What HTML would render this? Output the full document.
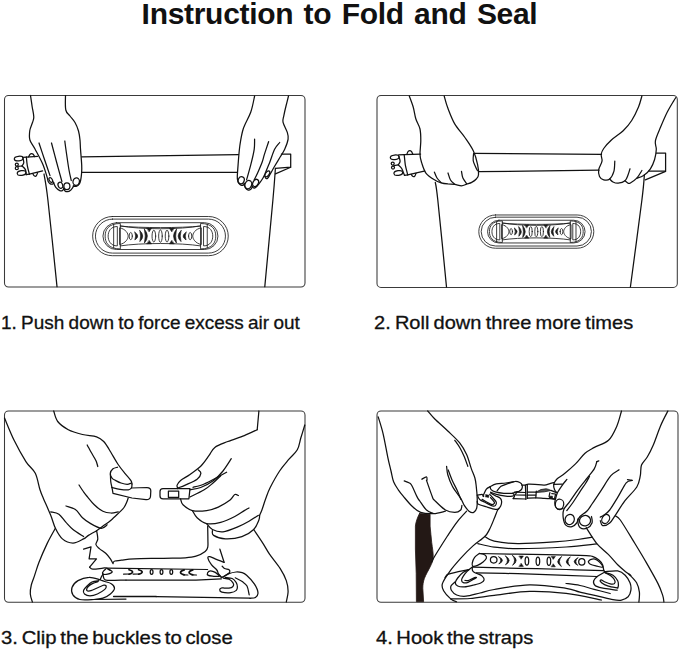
<!DOCTYPE html>
<html><head><meta charset="utf-8"><title>Instruction to Fold and Seal</title>
<style>
html,body{margin:0;padding:0;background:#fff;}
body{width:679px;height:649px;position:relative;overflow:hidden;font-family:"Liberation Sans",sans-serif;color:#111;}
h1{position:absolute;left:0;top:-4px;width:679px;margin:0;text-align:center;font-size:30px;line-height:36px;font-weight:700;letter-spacing:-0.3px;word-spacing:2.3px;white-space:nowrap;}
.cap{position:absolute;margin:0;font-size:18.2px;line-height:22px;font-weight:400;white-space:nowrap;-webkit-text-stroke:0.3px #111;transform-origin:0 0;}
#c1{left:1.2px;top:311.5px;transform:scaleX(1.043);word-spacing:-0.96px;}
#c2{left:374.4px;top:311.5px;transform:scaleX(1.102);word-spacing:-1.27px;}
#c3{left:0.6px;top:627.2px;transform:scaleX(1.116);word-spacing:-1.73px;}
#c4{left:375.5px;top:627.2px;transform:scaleX(1.108);word-spacing:-1.86px;}
svg{position:absolute;left:0;top:0;}
</style></head><body>
<h1>Instruction to Fold and Seal</h1>
<svg width="679" height="649" viewBox="0 0 679 649" fill="none" stroke="#111" stroke-width="1.25" stroke-linecap="round" stroke-linejoin="round">
<rect x="4.5" y="95.5" width="300.5" height="191.5" rx="4" stroke="#3a3a3a" stroke-width="1.05"/>
<path d="M30.5 95.5C30.8 97.4 31.7 103.4 32.2 107.0C32.8 110.6 33.8 114.4 33.8 117.0C33.8 119.6 33.2 120.2 32.5 122.5C31.8 124.8 30.2 127.6 29.8 130.5C29.4 133.4 29.0 136.9 29.9 140.0C30.8 143.1 32.9 145.0 35.0 149.0C37.1 153.0 40.7 159.3 42.7 164.0C44.7 168.7 46.2 174.2 47.1 177.1C48.0 180.0 47.7 180.5 48.2 181.6C48.7 182.7 49.6 183.5 50.3 183.9C51.0 184.3 52.0 184.2 52.6 184.1C53.2 183.9 53.7 183.2 53.9 183.0"/>
<path d="M53.3 182.0C53.7 182.9 54.7 185.9 55.8 187.3C56.9 188.7 58.7 190.1 59.8 190.6C60.9 191.1 61.7 190.9 62.4 190.6C63.1 190.3 63.6 189.3 63.8 189.0"/>
<path d="M63.5 188.0C63.8 188.5 64.3 190.4 65.0 191.0C65.7 191.6 66.6 191.8 67.5 191.7C68.4 191.6 69.7 190.9 70.6 190.2C71.5 189.4 72.4 188.0 73.0 187.2C73.6 186.4 73.8 185.6 74.0 185.3"/>
<path d="M73.2 186.0C73.7 186.1 75.2 186.6 76.2 186.3C77.2 186.0 78.5 185.2 79.2 184.2C80.0 183.1 80.3 181.9 80.7 180.0C81.1 178.1 81.4 175.5 81.6 173.0C81.8 170.5 81.9 169.0 81.7 165.0C81.5 161.0 80.8 153.2 80.5 149.0C80.2 144.8 80.3 143.0 80.0 140.0C79.7 137.0 79.3 133.9 78.5 131.0C77.7 128.1 76.4 125.0 75.0 122.5C73.6 120.0 71.5 118.1 70.0 116.0C68.5 113.9 66.5 113.4 65.8 110.0C65.0 106.6 65.5 97.9 65.5 95.5"/>
<path d="M39.0 143.0C39.8 145.5 42.2 152.6 44.0 158.0C45.8 163.4 49.0 172.7 50.0 175.6"/>
<path d="M51.5 143.0C52.2 145.8 54.3 153.6 56.0 160.0C57.7 166.4 60.9 177.9 61.9 181.5"/>
<path d="M64.8 141.0C65.0 142.5 65.3 145.2 66.0 150.0C66.7 154.8 68.1 164.9 69.0 170.0C69.9 175.1 70.9 178.8 71.3 180.5"/>
<ellipse cx="50.8" cy="180" rx="1.5" ry="2.6" transform="rotate(-30 50.8 180)"/>
<ellipse cx="60.4" cy="185.3" rx="2.3" ry="3.1" transform="rotate(-20 60.4 185.3)"/>
<ellipse cx="66.9" cy="186.3" rx="3" ry="3.4"/>
<ellipse cx="76.2" cy="181.6" rx="3.2" ry="3.8" transform="rotate(12 76.2 181.6)"/>
<path d="M81.7 156.8L238.5 154.6"/>
<path d="M81.7 172.4L237.3 172.3"/>
<path d="M254.6 96.0C254.0 98.7 252.7 106.5 250.8 112.0C248.9 117.5 245.0 123.3 243.2 129.0C241.4 134.7 240.7 140.1 239.8 146.0C239.0 151.9 238.5 159.5 238.1 164.6C237.7 169.7 237.4 173.7 237.3 176.4C237.2 179.1 237.4 179.7 237.8 181.0C238.2 182.3 238.9 183.3 239.5 184.0C240.1 184.7 240.9 185.2 241.6 185.3C242.3 185.5 243.1 185.2 243.6 184.9C244.1 184.6 244.5 183.8 244.7 183.6"/>
<path d="M244.0 183.0C244.2 183.8 244.6 186.4 245.3 187.6C246.0 188.8 247.4 189.8 248.3 190.1C249.2 190.4 250.1 189.9 250.8 189.3C251.5 188.7 252.2 187.1 252.5 186.7"/>
<path d="M252.0 186.2C252.2 186.5 252.9 187.6 253.5 187.8C254.1 188.0 254.6 188.3 255.6 187.6C256.6 186.9 258.1 185.0 259.3 183.4C260.5 181.8 262.0 179.7 263.0 178.0C264.0 176.3 264.9 174.2 265.3 173.5"/>
<path d="M264.8 176.0C265.0 176.4 265.3 177.8 265.8 178.2C266.3 178.6 266.9 179.0 267.6 178.3C268.4 177.6 269.1 175.9 270.3 173.9C271.5 171.9 273.0 169.0 274.6 166.3C276.2 163.6 278.0 160.6 279.7 157.8C281.4 155.0 283.3 152.4 284.7 149.3C286.1 146.2 287.7 142.0 288.1 139.2C288.5 136.4 288.2 135.2 287.3 132.4C286.4 129.6 283.6 125.0 283.0 122.2C282.4 119.4 283.4 118.1 283.9 115.4C284.4 112.7 285.2 109.2 286.0 106.0C286.8 102.8 288.1 97.7 288.5 96.0"/>
<path d="M254.6 139.2C254.5 140.9 254.8 145.1 254.2 149.3C253.6 153.5 252.1 159.5 250.8 164.6C249.5 169.7 247.3 177.3 246.6 179.8"/>
<path d="M268.6 141.7C267.9 143.8 265.5 151.0 264.4 154.4C263.3 157.8 263.3 158.9 262.2 162.0C261.1 165.1 258.9 170.0 257.6 173.0C256.3 176.0 254.8 178.7 254.2 179.8"/>
<path d="M279.7 142.5C278.9 143.6 276.3 145.9 274.6 149.3C272.9 152.7 271.1 159.0 269.5 162.9C267.9 166.8 266.0 171.3 265.3 173.0"/>
<ellipse cx="241.2" cy="180.3" rx="3" ry="3.6" transform="rotate(20 241.2 180.3)"/>
<ellipse cx="248.3" cy="184.6" rx="3.3" ry="4.2" transform="rotate(20 248.3 184.6)"/>
<ellipse cx="255.6" cy="182.9" rx="2.6" ry="3.8" transform="rotate(30 255.6 182.9)"/>
<ellipse cx="267.3" cy="173.9" rx="1.8" ry="3.4" transform="rotate(35 267.3 173.9)"/>
<path d="M281.4 154.0L290.7 154.0L290.7 167.1L275.4 168.3"/>
<path d="M290.7 167.3L275.4 173.9"/>
<path d="M275.4 168.3C275.0 173.6 274.7 180.3 272.9 200.0C271.1 219.7 266.1 272.2 264.8 286.6"/>
<path d="M44.0 174.0C44.6 178.3 45.7 181.2 47.9 200.0C50.1 218.8 55.5 272.2 57.0 286.6"/>
<ellipse cx="18.7" cy="158.6" rx="4.4" ry="2.3" transform="rotate(-6 18.7 158.6)"/>
<ellipse cx="21.6" cy="173" rx="4.4" ry="2.3" transform="rotate(-10 21.6 173)"/>
<ellipse cx="16.8" cy="164.5" rx="1.5" ry="1.5"/>
<ellipse cx="16.8" cy="168.2" rx="1.5" ry="1.5"/>
<path d="M17.8 166.3L22.0 166.0"/>
<path d="M22.9 157.8C23.0 158.6 23.9 161.2 23.8 162.6C23.7 164.0 22.3 165.4 22.0 166.0"/>
<path d="M22.0 166.0C22.6 166.6 24.7 168.2 25.4 169.6C26.1 171.0 26.1 173.8 26.2 174.6"/>
<path d="M22.7 157.4L26.4 157.2"/>
<path d="M26.2 174.7L29.4 174.1"/>
<path d="M37.5 156.4L26.4 157.2"/>
<path d="M26.4 157.2C26.5 158.6 26.8 162.8 27.3 165.6C27.8 168.5 29.0 172.7 29.4 174.1"/>
<path d="M29.4 174.1L42.6 170.8"/>
<path d="M28.6 156.9C28.8 156.5 29.5 154.9 30.0 154.3C30.5 153.7 31.1 153.5 31.6 153.5C32.1 153.5 32.7 153.8 33.2 154.3C33.7 154.8 34.4 156.2 34.6 156.6"/>
<path d="M32.8 173.6C33.0 173.9 33.6 175.2 34.0 175.7C34.4 176.2 34.8 176.3 35.2 176.3C35.6 176.3 36.0 176.3 36.4 175.7C36.8 175.1 37.4 173.2 37.6 172.7"/>
<g transform="translate(160.45 236.1) scale(1)" stroke-width="0.85" stroke="#1c1c1c">
<path d="M-48.2 -19.6 H48.2 A19.6 19.6 0 0 1 48.2 19.6 H-48.2 A19.6 19.6 0 0 1 -48.2 -19.6 Z"/>
<path d="M-48 -17 H48 A17 17 0 0 1 48 17 H-48 A17 17 0 0 1 -48 -17 Z"/>
<path d="M-44.1 -13.4 H44.1 A13.4 13.4 0 0 1 44.1 13.4 H-44.1 A13.4 13.4 0 0 1 -44.1 -13.4 Z"/>
<path d="M-40.2 -10.2 C-20 -6.4 20 -6.4 40.2 -10.2 M-40.2 9.8 C-20 6.6 20 6.6 40.2 9.8"/>
<path d="M-40 -10 C-20 -8 20 -8 40 -10"/>
<g transform="scale(-1 1)">
<path d="M-40.5 -12.6 C-52.5 -12.6 -55.3 -6 -55.3 0 C-55.3 6 -52.5 12.8 -40.5 12.8 Z"/>
<path d="M-43.5 -9.6 C-50 -9.6 -52.3 -4.5 -52.3 0 C-52.3 4.5 -50 9.8 -43.5 9.8 Z"/>
<path d="M-46.8 -11.6 L-46.8 11.8"/>
<path d="M-40.5 -8.2 C-34.5 -7 -32.3 -2.5 -32.3 0 C-32.3 2.5 -34.5 7 -40.5 8.4 Z"/>
<ellipse cx="-29.7" cy="0" rx="1.6" ry="3.6"/>
<path d="M-25.6 -3.9 Q-19.7 0 -25.6 3.9 Q-23.9 0 -25.6 -3.9Z" fill="#1c1c1c" stroke-width="0.7"/>
<path d="M-20.6 -5.5 Q-14.7 0 -20.6 5.5 Q-18.9 0 -20.6 -5.5Z" fill="#1c1c1c" stroke-width="0.7"/>
<path d="M-16 -6.9 Q-10.1 0 -16 6.9 Q-14.3 0 -16 -6.9Z" fill="#1c1c1c" stroke-width="0.7"/>
<path d="M-13.6 -8 L-8.8 -8 L-11.2 -4.4Z M-13.6 7.8 L-8.8 7.8 L-11.2 4.4Z" fill="#1c1c1c" stroke-width="0.5"/>
</g>
<g transform="scale(1 1)">
<path d="M-40.5 -12.6 C-52.5 -12.6 -55.3 -6 -55.3 0 C-55.3 6 -52.5 12.8 -40.5 12.8 Z"/>
<path d="M-43.5 -9.6 C-50 -9.6 -52.3 -4.5 -52.3 0 C-52.3 4.5 -50 9.8 -43.5 9.8 Z"/>
<path d="M-46.8 -11.6 L-46.8 11.8"/>
<path d="M-40.5 -8.2 C-34.5 -7 -32.3 -2.5 -32.3 0 C-32.3 2.5 -34.5 7 -40.5 8.4 Z"/>
<ellipse cx="-29.7" cy="0" rx="1.6" ry="3.6"/>
<path d="M-25.6 -3.9 Q-19.7 0 -25.6 3.9 Q-23.9 0 -25.6 -3.9Z" fill="#1c1c1c" stroke-width="0.7"/>
<path d="M-20.6 -5.5 Q-14.7 0 -20.6 5.5 Q-18.9 0 -20.6 -5.5Z" fill="#1c1c1c" stroke-width="0.7"/>
<path d="M-16 -6.9 Q-10.1 0 -16 6.9 Q-14.3 0 -16 -6.9Z" fill="#1c1c1c" stroke-width="0.7"/>
<path d="M-13.6 -8 L-8.8 -8 L-11.2 -4.4Z M-13.6 7.8 L-8.8 7.8 L-11.2 4.4Z" fill="#1c1c1c" stroke-width="0.5"/>
</g>
<ellipse cx="-6.6" cy="0" rx="1.8" ry="5.9"/>
<ellipse cx="0" cy="0" rx="1.8" ry="6.2"/>
<ellipse cx="6.6" cy="0" rx="1.8" ry="5.9"/>
</g>
<rect x="377" y="95.5" width="300.3" height="191.9" rx="4" stroke="#3a3a3a" stroke-width="1.05"/>
<path d="M409.3 96.0C409.9 97.8 412.1 103.2 413.2 107.0C414.3 110.8 414.7 115.1 415.8 118.8C416.9 122.5 419.2 125.3 420.0 129.0C420.8 132.7 420.8 136.6 420.8 140.8C420.8 145.0 419.9 150.7 420.0 154.4C420.1 158.1 420.7 159.8 421.7 162.9C422.7 166.0 423.8 170.2 425.9 173.0C428.0 175.8 431.8 178.2 434.4 179.8C436.9 181.5 438.9 182.2 441.2 182.9C443.5 183.6 445.8 183.8 448.0 184.0C450.2 184.2 452.4 184.0 454.7 184.3C456.9 184.6 459.5 185.8 461.5 185.8C463.5 185.8 464.9 184.8 466.6 184.2C468.3 183.6 470.1 183.3 471.7 182.4C473.3 181.5 475.2 180.3 476.3 179.0C477.4 177.7 478.3 177.1 478.5 174.7C478.7 172.3 478.5 168.5 477.6 164.6C476.8 160.7 475.5 155.5 473.4 151.0C471.3 146.5 468.0 142.0 464.9 137.5C461.8 133.0 457.5 128.7 454.7 123.9C451.9 119.1 449.8 113.2 448.0 108.6C446.2 103.9 444.8 98.1 444.2 96.0"/>
<path d="M434.4 172.2C434.8 173.2 435.9 176.3 437.0 178.0C438.1 179.7 440.5 181.8 441.2 182.6"/>
<path d="M448.0 173.0C448.4 174.2 449.4 178.1 450.5 180.0C451.6 181.9 454.0 183.5 454.7 184.2"/>
<path d="M461.5 171.4C461.7 172.5 462.0 176.0 462.9 178.0C463.8 180.0 466.0 182.7 466.6 183.6"/>
<path d="M473.6 153.6C473.5 154.8 472.9 158.4 473.2 160.5C473.5 162.6 474.5 164.3 475.2 166.0C475.9 167.7 477.0 169.8 477.4 170.5"/>
<path d="M473.9 153.4L601.5 154.4"/>
<path d="M478.4 171.7L599.0 170.2"/>
<path d="M641.9 96.0C641.3 97.8 640.2 102.9 638.5 107.0C636.8 111.1 634.2 116.5 631.7 120.5C629.2 124.5 626.6 127.4 623.2 130.7C619.8 133.9 614.6 137.0 611.4 140.0C608.1 143.0 605.4 146.1 603.7 148.5C602.0 150.9 601.5 152.3 601.2 154.4C600.9 156.5 602.4 158.6 602.0 161.2C601.6 163.8 599.1 167.2 598.7 169.7C598.3 172.2 598.7 174.7 599.5 176.4C600.3 178.1 602.0 179.4 603.7 179.8C605.4 180.2 608.0 180.4 609.7 179.0C611.4 177.6 613.0 174.4 613.9 171.4C614.8 168.4 614.6 162.9 614.8 161.2"/>
<path d="M609.7 179.0C610.2 179.5 611.6 181.3 613.0 182.0C614.4 182.7 616.2 183.4 618.2 183.2C620.2 183.0 623.4 182.1 625.0 180.7C626.6 179.3 627.2 177.0 628.0 175.0C628.8 173.0 629.7 169.8 630.0 168.8"/>
<path d="M625.0 180.7C625.4 181.0 626.7 182.4 627.5 182.8C628.3 183.2 628.5 184.0 630.0 183.2C631.5 182.4 634.8 180.2 636.8 178.1C638.8 176.0 641.0 171.8 641.9 170.5"/>
<path d="M636.8 178.3C637.9 177.9 641.3 177.2 643.6 175.6C645.9 174.0 648.6 171.5 650.4 168.8C652.2 166.1 653.6 162.8 654.6 159.5C655.6 156.2 656.2 152.4 656.3 149.3C656.4 146.2 654.7 144.5 655.4 140.8C656.1 137.1 658.5 132.1 660.5 127.3C662.5 122.5 665.0 116.5 667.3 112.0C669.6 107.5 672.7 102.6 674.1 100.2C675.5 97.8 675.5 98.0 675.8 97.6"/>
<path d="M656.3 153.0L665.6 153.0L665.6 171.0L648.7 171.0"/>
<path d="M665.6 171.3L645.3 179.8"/>
<path d="M644.4 174.7C644.0 178.9 644.2 181.3 641.9 200.0C639.6 218.7 632.3 272.5 630.4 287.0"/>
<path d="M435.3 182.4C435.7 185.3 435.9 182.6 437.8 200.0C439.7 217.4 445.1 272.5 446.5 287.0"/>
<ellipse cx="394.7" cy="157.3" rx="4.4" ry="2.3" transform="rotate(-6 394.7 157.3)"/>
<ellipse cx="398.3" cy="173" rx="4.4" ry="2.3" transform="rotate(-10 398.3 173)"/>
<ellipse cx="392.7" cy="163.6" rx="1.5" ry="1.5"/>
<ellipse cx="393" cy="167.5" rx="1.5" ry="1.5"/>
<path d="M393.9 165.6L398.3 164.9"/>
<path d="M398.9 156.5C399.1 157.3 400.2 160.0 400.1 161.4C400.0 162.8 398.6 164.3 398.3 164.9"/>
<path d="M398.3 164.9C398.9 165.5 400.7 166.8 401.7 168.5C402.7 170.2 404.0 174.2 404.5 175.3"/>
<path d="M398.7 154.9L404.2 154.7"/>
<path d="M404.5 175.4L407.7 174.8"/>
<path d="M420.6 154.1L404.2 154.7"/>
<path d="M404.2 154.7C404.4 156.4 404.8 161.4 405.3 164.8C405.9 168.1 407.3 173.1 407.7 174.8"/>
<path d="M407.7 174.8L424.2 171.2"/>
<path d="M406.8 154.4C407.0 153.9 407.7 152.0 408.2 151.4C408.7 150.8 409.3 150.6 409.8 150.6C410.3 150.6 410.9 150.8 411.4 151.4C411.9 152.0 412.6 153.7 412.8 154.1"/>
<path d="M411.2 174.3C411.4 174.6 412.0 175.7 412.4 176.1C412.8 176.5 413.2 176.7 413.6 176.7C414.0 176.7 414.4 176.6 414.8 176.1C415.2 175.6 415.8 173.8 416.0 173.4"/>
<g transform="translate(536.3 231.6) scale(0.848)" stroke-width="1.00236" stroke="#1c1c1c">
<path d="M-48.2 -19.6 H48.2 A19.6 19.6 0 0 1 48.2 19.6 H-48.2 A19.6 19.6 0 0 1 -48.2 -19.6 Z"/>
<path d="M-48 -17 H48 A17 17 0 0 1 48 17 H-48 A17 17 0 0 1 -48 -17 Z"/>
<path d="M-44.1 -13.4 H44.1 A13.4 13.4 0 0 1 44.1 13.4 H-44.1 A13.4 13.4 0 0 1 -44.1 -13.4 Z"/>
<path d="M-40.2 -10.2 C-20 -6.4 20 -6.4 40.2 -10.2 M-40.2 9.8 C-20 6.6 20 6.6 40.2 9.8"/>
<path d="M-40 -10 C-20 -8 20 -8 40 -10"/>
<g transform="scale(-1 1)">
<path d="M-40.5 -12.6 C-52.5 -12.6 -55.3 -6 -55.3 0 C-55.3 6 -52.5 12.8 -40.5 12.8 Z"/>
<path d="M-43.5 -9.6 C-50 -9.6 -52.3 -4.5 -52.3 0 C-52.3 4.5 -50 9.8 -43.5 9.8 Z"/>
<path d="M-46.8 -11.6 L-46.8 11.8"/>
<path d="M-40.5 -8.2 C-34.5 -7 -32.3 -2.5 -32.3 0 C-32.3 2.5 -34.5 7 -40.5 8.4 Z"/>
<ellipse cx="-29.7" cy="0" rx="1.6" ry="3.6"/>
<path d="M-25.6 -3.9 Q-19.7 0 -25.6 3.9 Q-23.9 0 -25.6 -3.9Z" fill="#1c1c1c" stroke-width="0.825472"/>
<path d="M-20.6 -5.5 Q-14.7 0 -20.6 5.5 Q-18.9 0 -20.6 -5.5Z" fill="#1c1c1c" stroke-width="0.825472"/>
<path d="M-16 -6.9 Q-10.1 0 -16 6.9 Q-14.3 0 -16 -6.9Z" fill="#1c1c1c" stroke-width="0.825472"/>
<path d="M-13.6 -8 L-8.8 -8 L-11.2 -4.4Z M-13.6 7.8 L-8.8 7.8 L-11.2 4.4Z" fill="#1c1c1c" stroke-width="0.589623"/>
</g>
<g transform="scale(1 1)">
<path d="M-40.5 -12.6 C-52.5 -12.6 -55.3 -6 -55.3 0 C-55.3 6 -52.5 12.8 -40.5 12.8 Z"/>
<path d="M-43.5 -9.6 C-50 -9.6 -52.3 -4.5 -52.3 0 C-52.3 4.5 -50 9.8 -43.5 9.8 Z"/>
<path d="M-46.8 -11.6 L-46.8 11.8"/>
<path d="M-40.5 -8.2 C-34.5 -7 -32.3 -2.5 -32.3 0 C-32.3 2.5 -34.5 7 -40.5 8.4 Z"/>
<ellipse cx="-29.7" cy="0" rx="1.6" ry="3.6"/>
<path d="M-25.6 -3.9 Q-19.7 0 -25.6 3.9 Q-23.9 0 -25.6 -3.9Z" fill="#1c1c1c" stroke-width="0.825472"/>
<path d="M-20.6 -5.5 Q-14.7 0 -20.6 5.5 Q-18.9 0 -20.6 -5.5Z" fill="#1c1c1c" stroke-width="0.825472"/>
<path d="M-16 -6.9 Q-10.1 0 -16 6.9 Q-14.3 0 -16 -6.9Z" fill="#1c1c1c" stroke-width="0.825472"/>
<path d="M-13.6 -8 L-8.8 -8 L-11.2 -4.4Z M-13.6 7.8 L-8.8 7.8 L-11.2 4.4Z" fill="#1c1c1c" stroke-width="0.589623"/>
</g>
<ellipse cx="-6.6" cy="0" rx="1.8" ry="5.9"/>
<ellipse cx="0" cy="0" rx="1.8" ry="6.2"/>
<ellipse cx="6.6" cy="0" rx="1.8" ry="5.9"/>
</g>
<rect x="4.5" y="411" width="300.5" height="191.3" rx="4" stroke="#3a3a3a" stroke-width="1.05"/>
<path d="M4.5 418.0C6.1 421.7 10.5 433.0 14.1 440.3C17.7 447.6 22.4 456.1 25.9 461.6C29.4 467.1 32.9 468.6 35.3 473.3C37.6 478.0 38.6 485.5 40.0 489.8C41.4 494.1 41.8 494.6 43.6 498.9C45.4 503.1 48.7 510.4 50.7 515.3C52.7 520.2 53.5 524.4 55.4 528.3C57.3 532.2 59.5 536.4 62.4 538.9C65.3 541.4 69.5 543.1 73.0 543.1C76.5 543.1 81.0 540.2 83.6 538.9C86.2 537.6 86.2 536.8 88.4 535.4C90.6 534.0 94.0 532.3 96.6 530.7C99.1 529.1 101.3 527.4 103.7 525.6C106.1 523.9 108.4 522.4 111.0 520.2C113.6 518.0 116.9 514.7 119.1 512.6C121.3 510.5 122.7 509.3 124.0 507.5C125.3 505.7 126.1 503.6 126.8 502.0C127.5 500.4 128.0 498.6 128.2 497.9"/>
<path d="M53.7 411.0C54.4 412.8 55.3 418.4 57.7 421.5C60.1 424.6 64.2 427.5 68.3 429.7C72.4 431.9 77.8 433.3 82.5 434.5C87.2 435.7 93.1 435.6 96.6 436.8C100.1 438.0 101.3 439.0 103.7 441.5C106.1 444.0 108.4 448.2 110.7 452.0C113.0 455.8 115.4 460.4 117.8 464.0C120.2 467.6 122.7 470.6 124.9 473.3C127.1 476.0 129.6 478.6 130.8 480.4C132.0 482.2 131.8 483.4 132.0 484.0"/>
<path d="M117.5 467.2C116.8 467.5 114.2 467.8 113.0 468.8C111.8 469.8 110.5 471.8 110.3 473.3C110.1 474.8 111.1 476.8 112.0 478.0C112.9 479.2 114.0 479.6 115.5 480.4C117.0 481.2 119.0 482.4 121.0 483.0C123.0 483.6 125.5 484.3 127.2 484.3C128.9 484.3 130.6 483.2 131.3 483.0"/>
<path d="M110.4 474.0C110.5 475.3 110.5 479.8 110.8 482.0C111.1 484.2 111.8 486.6 112.0 487.5"/>
<path d="M112.0 487.5C113.3 487.8 117.3 488.9 120.0 489.3C122.7 489.7 126.5 490.1 128.4 489.8C130.3 489.6 130.9 488.8 131.5 487.8C132.1 486.8 131.9 484.6 132.0 484.0"/>
<path d="M87.2 445.0C87.8 446.2 89.8 449.8 91.0 452.0C92.2 454.2 93.6 456.3 94.5 458.0C95.4 459.7 96.0 460.6 96.5 462.0C97.0 463.4 97.6 465.8 97.8 466.5"/>
<path d="M131.5 488 L147 487.5 Q150.8 487.5 150.8 491 L150.5 496.5 Q150 499.9 146 499.7 L132 498 L113 493.4 L112 487.5"/>
<path d="M79.0 485.0C79.7 486.0 81.6 489.1 83.0 491.0C84.4 492.9 85.3 494.2 87.2 496.5C89.1 498.8 91.7 502.2 94.3 504.7C96.9 507.2 100.1 509.9 102.9 511.3C105.7 512.7 108.4 512.9 111.0 513.0C113.6 513.1 117.1 512.0 118.3 511.8"/>
<path d="M66.0 506.0C67.6 506.6 72.7 507.6 75.4 509.5C78.2 511.4 80.0 515.4 82.5 517.7C85.0 520.1 87.6 521.8 90.7 523.6C93.8 525.4 98.5 528.1 101.3 528.3C104.0 528.5 106.2 525.4 107.2 524.8"/>
<path d="M50.7 511.8C52.1 512.2 56.4 512.4 58.9 514.2C61.4 516.0 63.6 519.9 66.0 522.4C68.3 524.9 70.1 527.1 73.0 529.5C75.9 531.9 81.8 535.4 83.6 536.6"/>
<path d="M55.4 528.3C54.0 530.8 49.9 537.9 47.1 543.6C44.4 549.3 41.0 557.0 38.9 562.5C36.8 568.0 35.5 572.9 34.2 576.6C32.9 580.4 32.0 582.1 31.3 585.0C30.6 587.9 30.1 591.2 30.3 594.0C30.5 596.8 32.0 600.7 32.4 602.0"/>
<path d="M96.6 530.7C96.8 532.1 97.9 536.6 97.8 538.9C97.7 541.2 95.6 542.9 95.9 544.5C96.2 546.1 97.8 547.1 99.4 548.6C101.0 550.1 103.9 551.6 105.7 553.3C107.5 555.0 109.2 557.2 110.4 558.9C111.6 560.6 112.6 562.9 113.1 563.7"/>
<path d="M113.2 562.5C113.5 562.2 113.6 561.4 115.0 561.0C116.4 560.6 118.3 560.6 121.5 560.2C124.7 559.8 127.2 559.1 134.2 558.8C141.2 558.5 155.1 558.5 163.6 558.3C172.1 558.1 179.9 558.1 185.3 557.8C190.7 557.4 192.7 557.2 196.0 556.2C199.3 555.2 203.2 553.2 205.2 551.6C207.2 550.0 207.4 548.8 207.8 546.9C208.2 545.0 207.9 543.5 207.9 540.0C207.9 536.5 207.7 528.3 207.7 526.0"/>
<path d="M83.6 549.2L91.0 546.8L89.1 558.9L96.5 558.9L89.6 567.2"/>
<path d="M89.6 567.2C90.1 567.5 90.6 569.1 92.8 569.2C95.0 569.4 100.7 568.3 103.0 568.1C105.3 567.9 105.5 567.7 106.7 568.1C107.9 568.5 109.8 570.0 110.4 570.4"/>
<path d="M106.7 568.1L207.6 569.5"/>
<path d="M103.0 574.1C103.2 574.8 103.1 577.2 103.9 578.3C104.7 579.3 103.9 580.1 107.6 580.4C111.3 580.7 122.9 580.1 126.0 580.1"/>
<path d="M126.0 580.1L196.0 580.1L221.4 578.9"/>
<path d="M103.0 574.1C102.8 574.5 102.1 575.5 101.6 576.4C101.1 577.3 100.4 579.2 100.2 579.7"/>
<path d="M105.7 569.0C105.2 569.5 103.5 570.9 103.0 571.8C102.5 572.6 102.2 573.7 103.0 574.1C103.8 574.5 106.1 574.5 107.6 574.1C109.1 573.7 112.1 572.6 112.2 571.8C112.3 571.0 108.7 569.6 108.0 569.2"/>
<path d="M221.4 577.2C220.4 576.4 217.1 573.5 215.3 572.4C213.5 571.3 211.9 570.8 210.6 570.8C209.3 570.8 208.0 571.9 207.6 572.7C207.2 573.5 207.3 574.8 208.3 575.4C209.3 576.0 211.9 576.1 213.7 576.3C215.5 576.4 218.2 576.3 219.1 576.3"/>
<ellipse cx="151.6" cy="572" rx="1.4" ry="2.3"/>
<ellipse cx="161.5" cy="572" rx="1.4" ry="2.3"/>
<ellipse cx="171.3" cy="572" rx="1.4" ry="2.3"/>
<path d="M129 569.7 Q136.2 571.8 129 574.2" stroke-width="1.7"/>
<path d="M123.6 574.2 L129.6 574" stroke-width="1.2"/>
<path d="M138.6 569.7 Q145.8 571.8 138.6 574.2" stroke-width="1.7"/>
<path d="M133.2 574.2 L139.2 574" stroke-width="1.2"/>
<path d="M184.2 569.9 Q176.8 572.4 184.2 574.8" stroke-width="1.7"/>
<path d="M183.4 574.9 L187.9 575" stroke-width="1.2"/>
<path d="M192.8 569.9 Q185.4 572.4 192.8 574.8" stroke-width="1.7"/>
<path d="M192 574.9 L196.5 575" stroke-width="1.2"/>
<path d="M100.2 579.7C98.3 579.3 92.8 577.1 89.1 577.3C85.4 577.4 80.8 578.9 78.0 580.6C75.2 582.3 72.8 585.1 72.0 587.5C71.2 589.9 71.6 592.9 72.9 594.9C74.2 596.9 76.4 598.7 79.9 599.5C83.4 600.3 89.9 599.7 93.7 599.5C97.5 599.3 100.2 599.0 103.0 598.1C105.8 597.2 108.5 595.6 110.4 594.0C112.3 592.4 114.3 590.1 114.5 588.4C114.7 586.7 112.9 584.9 111.3 583.8C109.7 582.6 106.6 582.1 104.8 581.5C103.0 580.9 101.2 580.2 100.5 580.0"/>
<path d="M98.8 580.6C97.7 580.8 93.8 581.1 91.9 582.0C90.0 582.9 88.7 584.3 87.3 585.7C85.9 587.1 84.1 588.9 83.6 590.3C83.1 591.7 83.4 593.1 84.5 594.0C85.6 594.9 87.8 595.8 90.0 595.8C92.2 595.8 94.9 595.1 97.4 594.0C99.9 592.9 103.3 590.7 104.8 589.4C106.3 588.1 106.3 586.8 106.2 586.1C106.1 585.4 105.2 585.0 103.9 585.2C102.6 585.4 100.5 586.6 98.3 587.5C96.1 588.4 92.9 590.2 91.0 590.7C89.1 591.2 87.3 591.0 86.8 590.3C86.3 589.6 87.2 587.8 88.2 586.6C89.2 585.5 91.1 584.2 92.8 583.4C94.5 582.5 97.4 581.8 98.3 581.5"/>
<path d="M93.7 599.5L126.0 599.1"/>
<path d="M113.6 596.6L156.3 596.5" stroke-width="1.5"/>
<path d="M156.3 596.7L250.0 598.2"/>
<path d="M258.9 411.0L257.2 429.7"/>
<path d="M257.2 429.7C255.0 430.7 249.2 433.6 244.3 435.6C239.4 437.6 232.7 439.5 227.8 441.5C222.9 443.5 218.0 445.0 214.8 447.4C211.7 449.8 211.2 452.5 208.9 455.7C206.6 458.9 203.8 463.2 200.7 466.3C197.5 469.4 193.3 472.1 190.0 474.5C186.7 476.9 182.8 478.6 180.6 480.4C178.4 482.2 177.6 483.7 177.1 485.1C176.6 486.5 177.7 488.0 177.8 488.6"/>
<path d="M198.3 469.8C198.7 470.4 201.1 471.7 200.9 473.3C200.7 474.9 199.7 477.2 197.1 479.2C194.5 481.2 188.5 483.6 185.3 485.1C182.1 486.6 179.1 487.5 177.8 488.0"/>
<path d="M304.8 425.0C304.1 427.2 302.1 433.9 300.8 438.0C299.6 442.1 299.3 446.3 297.3 449.8C295.3 453.3 291.9 455.7 289.0 459.2C286.1 462.7 282.7 466.3 279.6 471.0C276.5 475.7 272.6 482.8 270.2 487.5C267.8 492.2 266.9 495.6 265.5 499.3C264.1 503.1 262.9 507.3 261.9 510.0C260.9 512.7 260.0 514.4 259.6 515.3"/>
<path d="M190 488.6 L163 488.6 Q160 488.6 160 491.5 L160 496 Q160 498.8 163 498.8 L188.9 498.8 Z"/>
<path d="M168.4 491.0L178.7 491.0L178.7 497.4L168.4 497.4Z"/>
<path d="M231.3 458.7C229.9 460.8 225.9 467.4 223.0 471.0C220.1 474.6 217.3 477.6 213.6 480.4C209.9 483.1 204.6 485.9 200.7 487.5C196.8 489.1 191.8 489.4 190.0 489.8"/>
<path d="M226.6 472.2C224.8 473.2 219.7 476.0 216.0 478.0C212.3 480.0 208.0 482.4 204.2 484.0C200.4 485.6 194.9 486.8 193.0 487.3"/>
<path d="M190.0 497.0C192.4 495.8 200.4 492.1 204.2 489.8C208.0 487.5 210.2 485.4 213.0 483.0C215.8 480.6 219.4 476.9 220.7 475.7"/>
<path d="M180.6 498.9C181.0 499.9 181.0 502.8 183.0 504.7C185.0 506.6 188.5 509.6 192.4 510.6C196.3 511.6 202.3 511.2 206.6 510.6C210.9 510.0 214.4 508.9 218.3 507.1C222.2 505.3 227.3 502.1 230.1 500.0C232.8 497.9 233.4 495.2 234.8 494.5C236.2 493.8 237.8 495.3 238.4 495.5"/>
<path d="M192.4 510.6C193.2 511.8 194.7 515.5 197.1 517.7C199.5 519.9 202.7 522.8 206.6 523.6C210.5 524.4 216.0 523.6 220.7 522.4C225.4 521.2 230.9 518.5 234.8 516.5C238.7 514.5 241.9 512.0 244.3 510.6C246.7 509.2 248.2 508.4 249.0 508.0"/>
<path d="M206.6 523.6C207.6 524.6 209.7 528.1 212.4 529.5C215.1 530.9 218.9 532.2 223.0 531.8C227.1 531.4 232.9 528.9 237.2 527.1C241.5 525.3 245.5 523.2 249.0 521.2C252.5 519.2 256.8 516.3 258.4 515.3"/>
<path d="M212.4 530.7C212.6 531.5 211.4 534.0 213.6 535.4C215.8 536.8 220.7 538.7 225.4 538.9C230.1 539.1 237.2 538.2 241.9 536.6C246.6 535.0 250.9 532.3 253.7 529.5C256.5 526.7 257.9 522.4 258.9 520.0C259.9 517.6 259.5 516.1 259.6 515.3"/>
<path d="M253.7 529.5C255.3 531.9 260.5 539.5 263.1 543.6C265.7 547.7 266.7 550.0 269.5 554.1C272.3 558.2 277.3 563.9 280.1 568.3C282.9 572.7 285.0 576.8 286.3 580.6C287.6 584.4 288.1 587.7 288.1 591.3C288.1 594.9 286.6 600.2 286.3 602.0"/>
<path d="M219.9 549.2L224.1 562.3"/>
<path d="M224.1 562.3C222.9 561.8 219.4 560.5 217.0 559.6C214.6 558.7 211.4 556.9 209.9 556.6C208.4 556.4 207.7 556.8 207.9 558.1C208.2 559.5 209.9 562.7 211.4 564.7C212.9 566.7 215.6 568.5 216.8 570.0C218.0 571.5 217.7 572.7 218.5 573.9C219.3 575.1 220.9 576.8 221.4 577.4"/>
<path d="M222.2 566.2C222.6 566.6 223.3 567.9 224.5 568.5C225.7 569.1 228.2 569.1 229.1 569.7C229.9 570.4 230.0 571.6 229.6 572.4C229.2 573.2 228.0 573.9 226.8 574.7C225.6 575.5 223.3 576.6 222.6 577.0"/>
<path d="M222.5 577.3C223.5 576.7 226.1 574.8 228.4 573.9C230.7 573.0 233.8 572.2 236.1 572.0C238.4 571.8 240.4 572.2 242.2 572.7C243.9 573.2 244.5 573.4 246.6 575.3C248.7 577.2 252.6 581.2 254.5 584.2C256.4 587.2 257.9 590.8 258.0 593.0C258.1 595.2 256.7 596.5 255.4 597.4C254.1 598.3 250.9 598.1 250.0 598.3"/>
<path d="M235.3 577.8C236.5 578.4 240.2 580.2 242.2 581.6C244.1 583.0 245.8 583.8 247.0 586.0C248.2 588.2 248.8 593.3 249.2 594.8"/>
<path d="M223.3 578.1C224.3 578.3 227.5 578.5 229.1 579.3C230.7 580.1 232.3 581.8 233.0 582.8C233.7 583.8 233.8 584.7 233.5 585.5C233.2 586.3 232.8 587.1 231.4 587.6C230.0 588.1 226.6 588.2 225.0 588.2C223.4 588.2 222.7 587.6 221.8 587.9C220.9 588.1 219.7 589.0 219.7 589.7C219.7 590.4 220.0 591.6 221.8 592.1C223.6 592.6 228.3 593.0 230.7 592.7C233.1 592.4 235.2 591.4 236.3 590.4C237.4 589.4 237.4 588.3 237.4 587.0C237.4 585.7 237.0 583.8 236.1 582.4C235.2 581.0 234.0 579.3 232.2 578.5C230.4 577.7 226.5 577.6 225.3 577.4"/>
<rect x="377" y="411" width="301" height="191.3" rx="4" stroke="#3a3a3a" stroke-width="1.05"/>
<path d="M419.5 513.5 L430.1 514.3 L430.1 526.1 C430.6 532 431.2 537 431.7 542.4 C432.4 548 433.4 553 433.2 557.1 C433 561 431.8 563.6 430.1 566.9 C428.2 570.8 425.8 574.6 424.4 578.4 C423.2 581.8 422.8 585 422.8 588.2 L423.6 601.7 L416.4 601.7 L416.2 573.5 L415.4 549 L415.4 526.1 C415.8 522 417.4 517.5 419.5 513.5 Z" fill="#231815" stroke="#231815" stroke-width="0.8"/>
<path d="M378.2 416.8C379.0 419.6 381.4 426.6 383.0 433.3C384.6 440.0 386.4 450.5 387.7 456.8C389.0 463.1 390.0 466.8 391.0 471.0C392.0 475.2 392.4 478.7 393.6 481.8C394.8 484.9 396.7 487.5 398.3 489.8C399.9 492.1 400.6 493.1 403.0 495.9C405.4 498.7 409.4 503.8 412.4 506.5C415.3 509.2 417.2 511.2 420.7 512.4C424.2 513.6 429.5 513.8 433.6 513.6C437.7 513.4 443.4 511.6 445.4 511.2"/>
<path d="M427.7 411.0C428.9 412.3 431.4 415.7 434.8 419.0C438.2 422.3 443.7 427.1 447.8 431.0C451.9 434.9 456.4 438.8 459.5 442.7C462.6 446.6 464.6 450.2 466.6 454.5C468.6 458.8 469.9 464.7 471.3 468.6C472.7 472.5 474.1 475.1 474.9 478.0C475.7 480.9 475.8 482.6 476.2 486.0C476.6 489.4 477.1 494.7 477.2 498.3C477.3 501.9 477.4 505.4 476.8 507.7C476.2 510.0 475.0 511.8 473.7 512.4C472.4 513.0 470.6 512.4 469.0 511.2C467.4 510.0 465.7 507.4 464.3 505.3C462.9 503.2 462.7 501.4 460.7 498.3C458.7 495.2 454.6 490.4 452.5 486.5C450.4 482.6 448.8 478.1 447.8 474.7C446.8 471.3 446.8 467.7 446.6 466.3"/>
<path d="M448.2 470.0C448.9 471.8 451.0 477.7 452.5 481.0C454.0 484.3 455.6 486.9 457.0 490.0C458.4 493.1 460.3 497.9 461.0 499.5"/>
<path d="M454.8 440.3C455.7 441.6 458.4 445.2 460.0 448.0C461.6 450.8 463.0 453.8 464.3 456.8C465.6 459.9 467.2 464.7 467.8 466.3"/>
<path d="M404.2 480.9C405.0 481.2 407.7 482.1 408.9 482.8C410.1 483.5 410.1 482.6 411.5 485.0C412.9 487.4 415.8 494.3 417.1 496.9C418.4 499.5 417.9 498.4 419.5 500.6C421.1 502.8 424.2 507.9 426.5 510.0C428.8 512.1 431.9 512.8 433.0 513.4"/>
<path d="M421.8 479.2C422.6 478.8 425.6 476.7 426.5 476.9C427.4 477.1 426.9 479.6 427.0 480.2"/>
<path d="M426.5 480.4C427.5 483.1 431.0 493.5 432.4 496.9C433.8 500.3 432.6 498.4 434.8 500.6C437.0 502.8 442.1 508.0 445.4 510.0C448.7 512.0 452.2 512.4 454.8 512.4C457.4 512.4 459.5 511.2 460.7 510.0C461.9 508.8 461.7 506.1 461.9 505.3"/>
<path d="M466.6 511.2C465.0 513.0 460.4 517.6 457.2 521.8C453.9 526.0 450.8 530.9 447.1 536.5C443.5 542.1 437.9 551.0 435.3 555.3C432.7 559.5 432.3 560.9 431.7 562.0"/>
<path d="M499.0 508.5C498.7 508.8 498.2 508.8 497.4 510.5C496.6 512.2 495.5 515.5 494.2 518.6C492.9 521.8 491.1 526.4 489.5 529.4C487.9 532.4 487.6 533.8 484.8 536.5C482.1 539.2 476.9 542.4 473.0 545.9C469.1 549.4 465.2 553.4 461.3 557.7C457.4 562.0 452.6 567.5 449.5 571.8C446.4 576.1 443.4 580.5 442.4 583.6C441.4 586.8 442.2 588.2 443.6 590.7C445.0 593.2 448.6 597.0 450.7 598.9C452.8 600.8 455.5 601.3 456.5 601.8"/>
<path d="M484.8 536.5C486.4 537.3 488.7 540.0 494.2 541.2C499.7 542.4 507.8 543.5 517.8 543.6C527.8 543.7 544.3 542.6 554.3 541.9C564.3 541.2 571.6 540.3 577.9 539.5C584.2 538.7 589.6 537.6 592.0 537.2"/>
<path d="M477.8 543.6C480.5 544.2 487.5 546.2 494.2 547.1C500.9 548.0 505.8 548.7 517.8 548.7C529.8 548.7 552.9 547.8 566.1 547.0C579.3 546.2 591.7 544.3 596.8 543.8"/>
<path d="M479.4 553.5C478.6 554.1 475.8 555.7 474.6 557.3C473.4 558.9 472.6 561.4 472.3 562.9C472.0 564.4 471.9 565.8 472.8 566.2C473.7 566.6 475.8 566.0 477.5 565.3C479.2 564.6 481.6 563.2 483.1 562.0C484.6 560.8 486.1 559.4 486.4 558.2C486.7 557.0 486.2 555.7 485.0 554.9C483.8 554.1 480.3 553.7 479.4 553.5"/>
<path d="M479.4 553.5C485.8 553.6 501.0 553.9 517.8 554.2C534.6 554.5 567.6 555.0 580.0 555.4C592.4 555.8 589.1 555.5 592.3 556.3C595.4 557.1 597.2 558.7 598.9 560.1C600.6 561.5 601.8 563.2 602.6 564.8C603.4 566.4 603.3 568.3 603.6 569.5C603.9 570.7 604.4 571.5 604.5 571.9"/>
<path d="M472.8 567.1C480.5 567.3 503.4 567.9 519.0 568.3C534.5 568.7 552.0 569.1 566.1 569.5C580.2 569.9 597.5 570.5 603.8 570.7"/>
<path d="M476.5 572.9C483.4 573.0 502.9 573.3 517.8 573.7C532.7 574.1 552.9 574.9 566.1 575.4C579.3 575.9 591.7 576.3 596.8 576.5"/>
<path d="M588.5 561.5C588.8 561.1 589.3 560.0 590.4 559.6C591.5 559.2 593.5 558.6 595.1 559.1C596.7 559.6 598.5 561.1 599.8 562.4C601.0 563.7 603.1 566.5 602.6 567.1C602.1 567.7 599.0 566.7 597.0 566.2C595.0 565.7 591.8 565.0 590.4 564.3C589.0 563.6 588.8 562.7 588.5 562.2C588.2 561.7 588.2 561.9 588.5 561.5Z"/>
<ellipse cx="493.7" cy="559.8" rx="3.3" ry="3.2"/>
<path d="M498.8 556.8 Q506.2 560.4 498.8 564 Q502.8 560.4 498.8 556.8Z" fill="#111" stroke-width="0.7"/>
<path d="M505.5 556 Q512.9 560.4 505.5 564.8 Q509.5 560.4 505.5 556Z" fill="#111" stroke-width="0.7"/>
<path d="M512.6 555.5 Q520 560.4 512.6 565.3 Q516.6 560.4 512.6 555.5Z" fill="#111" stroke-width="0.7"/>
<path d="M519.2 556 L523.4 556 L521.3 559Z M519.2 566.4 L523.4 566.4 L521.3 563.4Z" fill="#111" stroke-width="0.5"/>
<ellipse cx="526.9" cy="561" rx="1.8" ry="4.2"/>
<ellipse cx="537.9" cy="561.2" rx="1.8" ry="4.2"/>
<ellipse cx="548.9" cy="561.2" rx="1.8" ry="4.2"/>
<path d="M551.4 556.4 L555.4 556.4 L553.4 559.2Z M551.4 566.8 L555.4 566.8 L553.4 564Z" fill="#111" stroke-width="0.5"/>
<path d="M561.4 556.7 Q554 561.6 561.4 566.5 Q557.4 561.6 561.4 556.7Z" fill="#111" stroke-width="0.7"/>
<path d="M570 557.1 Q562.6 561.6 570 566.1 Q566 561.6 570 557.1Z" fill="#111" stroke-width="0.7"/>
<path d="M577.8 557.8 Q570.4 561.6 577.8 565.4 Q573.8 561.6 577.8 557.8Z" fill="#111" stroke-width="0.7"/>
<ellipse cx="581.8" cy="561.8" rx="3.1" ry="3.3"/>
<path d="M472.6 566.8C471.7 567.6 468.7 569.8 467.1 571.4C465.6 573.0 464.2 574.7 463.3 576.1C462.4 577.5 461.6 578.8 461.6 579.9C461.6 581.0 462.2 582.3 463.3 582.7C464.4 583.1 466.3 583.0 468.0 582.4C469.7 581.8 472.3 580.0 473.7 579.2C475.1 578.4 476.5 577.7 476.5 577.5C476.5 577.3 474.9 577.5 473.5 578.0C472.1 578.5 469.4 580.2 468.0 580.6C466.6 581.0 465.5 580.4 465.0 580.4"/>
<path d="M472.3 567.5C472.3 568.0 472.1 569.7 472.5 570.5C472.9 571.3 473.7 572.0 474.5 572.5C475.3 573.0 476.2 573.1 477.5 573.7C478.8 574.3 481.1 575.1 482.2 576.1C483.3 577.1 484.3 578.8 484.1 579.9C483.9 581.0 482.9 581.9 481.2 582.7C479.5 583.6 476.5 584.3 473.7 585.0C470.9 585.7 467.0 586.7 464.3 586.9C461.6 587.1 459.2 586.7 457.7 586.0C456.2 585.3 455.3 584.0 455.3 582.7C455.3 581.4 456.4 579.7 457.7 578.0C459.0 576.3 461.4 573.7 463.3 572.3C465.2 570.9 468.1 570.0 469.0 569.5"/>
<path d="M469.0 569.5C467.4 569.8 463.1 570.6 459.6 571.4C456.2 572.2 450.7 573.2 448.3 574.2C445.9 575.2 445.6 577.0 445.0 577.5"/>
<path d="M455.0 582.0C454.4 582.6 451.7 584.4 451.1 585.8C450.5 587.2 450.6 589.0 451.5 590.5C452.4 592.0 454.3 594.0 456.7 595.0C459.1 596.0 462.1 596.5 466.0 596.2C469.9 595.9 475.3 594.1 480.0 593.0C484.7 591.9 485.9 590.9 494.2 589.5C502.5 588.1 517.6 585.0 529.6 584.8C541.6 584.6 557.7 587.1 566.1 588.3C574.5 589.5 574.5 590.8 580.0 592.1C585.5 593.5 593.4 595.1 598.9 596.4C604.4 597.7 609.2 599.1 613.0 599.7C616.8 600.3 619.0 600.6 621.5 600.1C624.0 599.6 626.5 598.4 628.1 596.8C629.7 595.1 630.6 592.6 630.9 590.2C631.2 587.9 631.0 585.2 630.0 582.7C629.0 580.2 627.2 577.2 625.2 575.2C623.2 573.2 621.2 571.5 617.7 570.9C614.2 570.3 606.7 571.6 604.5 571.7"/>
<path d="M566.1 583.5C568.4 583.8 575.3 584.5 580.0 585.5C584.7 586.5 589.1 588.0 594.1 589.3C599.1 590.6 607.5 592.8 610.2 593.5"/>
<path d="M450.7 598.9C453.9 598.8 462.8 599.1 470.0 598.5C477.2 597.9 484.3 596.6 494.2 595.4C504.1 594.2 517.6 591.7 529.6 591.4C541.6 591.1 554.1 592.0 566.1 593.4C578.1 594.8 595.6 598.9 601.5 600.0"/>
<path d="M604.5 572.3C605.6 572.9 609.4 574.7 611.1 576.1C612.8 577.5 614.4 579.5 614.9 580.8C615.4 582.0 615.0 583.0 614.4 583.6C613.8 584.2 612.8 584.4 611.1 584.1C609.5 583.8 606.1 582.5 604.5 581.8C602.9 581.1 601.9 580.0 601.2 579.9C600.5 579.8 599.8 580.5 600.3 581.3C600.8 582.1 602.7 583.7 604.5 584.6C606.3 585.5 608.9 586.4 611.1 586.9C613.3 587.4 616.6 587.7 617.7 587.9"/>
<path d="M604.5 572.3C603.4 572.9 599.7 574.7 597.9 576.1C596.1 577.5 594.2 579.2 593.7 580.8C593.2 582.4 593.8 584.3 595.1 585.5C596.4 586.7 599.0 587.3 601.7 587.9C604.4 588.5 608.5 588.9 611.1 589.3C613.7 589.7 616.2 590.1 617.2 590.2"/>
<path d="M604.5 572.3C605.9 572.8 610.8 573.8 613.0 575.2C615.2 576.6 616.8 579.1 617.7 580.8C618.6 582.5 618.4 584.3 618.4 585.5C618.4 586.7 617.8 587.6 617.7 588.0"/>
<path d="M615.6 516.0C616.4 516.7 617.5 516.2 620.3 520.0C623.0 523.8 627.8 531.8 632.1 538.9C636.4 546.0 641.9 554.9 646.2 562.4C650.5 569.9 655.2 578.1 658.0 583.6C660.8 589.1 661.7 592.4 662.7 595.4C663.7 598.4 663.7 600.7 663.9 601.8"/>
<path d="M586.2 527.7C588.0 530.4 593.1 539.2 596.8 543.6C600.5 548.0 604.8 550.9 608.3 554.4C611.8 557.9 614.9 562.0 617.7 564.8C620.5 567.6 623.0 569.6 625.2 571.4C627.4 573.2 630.0 574.7 630.9 575.4"/>
<path d="M629.0 574.2C630.3 575.6 634.9 579.7 636.6 582.7C638.3 585.7 639.0 588.9 639.4 592.1C639.8 595.3 639.0 600.4 638.9 602.0"/>
<path d="M621.5 411.0C620.7 413.5 619.0 421.3 616.8 426.2C614.6 431.1 612.2 436.8 608.5 440.3C604.8 443.8 598.3 445.2 594.4 447.4C590.5 449.6 588.1 450.6 585.0 453.3C581.9 456.1 578.9 460.6 575.5 463.9C572.1 467.2 568.0 470.8 564.9 473.3C561.8 475.9 558.6 477.3 556.7 479.2C554.8 481.1 554.1 482.7 553.7 484.5C553.4 486.3 554.1 488.5 554.6 489.8C555.1 491.1 556.2 491.9 556.5 492.3"/>
<path d="M667.9 411.0C666.6 413.5 662.8 420.5 660.4 426.2C658.0 431.9 655.5 439.9 653.3 445.0C651.1 450.1 649.4 453.4 647.4 456.8C645.4 460.2 642.7 462.0 641.5 465.1C640.3 468.2 641.1 472.1 640.3 475.7C639.5 479.3 639.3 482.9 636.8 487.0C634.2 491.1 628.5 496.0 625.0 500.6C621.5 505.2 618.1 511.1 615.6 514.8C613.1 518.5 611.9 521.2 609.7 523.0C607.5 524.8 604.2 526.0 602.6 525.6C601.0 525.2 600.7 521.5 600.3 520.7"/>
<path d="M596.8 461.6C596.4 462.8 596.0 465.9 594.4 468.6C592.8 471.3 590.0 474.5 587.3 478.0C584.5 481.5 580.8 485.9 577.9 489.8C575.0 493.7 572.1 498.3 569.7 501.6C567.4 504.9 564.9 506.7 563.8 509.5C562.7 512.3 562.9 515.6 563.3 518.3C563.7 520.9 564.6 524.0 566.1 525.4C567.6 526.8 570.2 527.1 572.0 526.7C573.8 526.3 575.7 524.3 576.7 523.0C577.7 521.7 577.7 519.7 577.9 519.0"/>
<path d="M596.8 461.6L598.8 460.8"/>
<path d="M589.5 476.5C588.8 477.7 587.1 481.0 585.5 483.5C583.9 486.0 582.1 488.4 580.0 491.7C577.9 494.9 574.8 499.9 572.6 503.0C570.4 506.1 567.8 509.3 566.8 510.6"/>
<path d="M619.1 469.8C617.7 470.8 613.8 472.4 610.9 475.7C608.0 479.0 604.6 485.1 601.5 489.8C598.4 494.5 594.4 500.5 592.0 504.0C589.6 507.5 589.0 508.9 587.0 511.0C585.0 513.1 581.5 514.9 580.0 516.5C578.5 518.1 577.9 518.8 577.9 520.7C577.9 522.6 578.7 526.5 580.3 527.7C581.9 528.9 585.3 528.8 587.3 528.0C589.2 527.2 591.3 524.9 592.0 523.0C592.7 521.1 591.6 517.6 591.5 516.5"/>
<path d="M632.1 480.4C631.1 480.8 628.6 480.1 626.2 482.8C623.9 485.6 620.8 492.4 618.0 496.9C615.2 501.4 612.0 507.0 609.7 510.0C607.4 513.0 605.6 513.8 604.0 515.0C602.4 516.2 600.9 516.8 600.3 517.1"/>
<path d="M632.1 480.4L627.5 479.6"/>
<path d="M566.9 479.4C566.3 480.2 564.3 482.5 563.1 484.1C561.9 485.7 560.7 487.5 559.8 488.9C558.9 490.3 558.2 491.0 557.5 492.6C556.8 494.2 555.9 497.4 555.6 498.3"/>
<path d="M553.7 484.3L562.4 484.1"/>
<ellipse cx="559.5" cy="504.2" rx="4.2" ry="5" transform="rotate(8 559.5 504.2)"/>
<path d="M555.6 498.3C555.5 499.1 554.7 501.5 554.8 503.0C554.9 504.5 555.2 506.4 556.0 507.5C556.8 508.6 558.4 509.6 559.6 509.7C560.8 509.8 562.6 508.4 563.2 508.2"/>
<ellipse cx="569.7" cy="519.5" rx="4.6" ry="5.2" transform="rotate(20 569.7 519.5)"/>
<ellipse cx="585" cy="520.7" rx="5.6" ry="5.2" transform="rotate(-10 585 520.7)"/>
<ellipse cx="605.7" cy="519" rx="3.6" ry="4.8" transform="rotate(30 605.7 519)"/>
<path d="M490.1 486.7C491.1 486.2 493.7 484.5 496.3 483.9C498.9 483.3 502.6 483.4 505.7 483.0C508.8 482.6 512.8 481.6 515.1 481.5C517.5 481.4 518.6 481.9 519.8 482.5C521.0 483.1 521.9 484.2 522.2 485.3C522.5 486.4 522.2 488.1 521.7 489.1C521.2 490.1 520.1 490.8 518.9 491.4C517.6 491.9 515.0 492.2 514.2 492.4"/>
<path d="M497.2 490.7C497.8 490.0 499.3 487.5 501.0 486.3C502.7 485.1 505.4 484.4 507.6 483.7C509.8 482.9 512.9 482.1 514.0 481.8"/>
<path d="M490.1 486.7C490.3 487.2 490.2 488.7 491.1 489.6C492.0 490.5 493.2 491.3 495.3 491.9C497.4 492.5 501.0 493.1 503.8 493.3C506.6 493.5 510.4 493.5 512.3 493.3C514.2 493.1 514.5 492.4 515.0 492.2"/>
<path d="M490.6 492.2C491.6 492.6 493.8 493.6 496.3 494.3C498.8 495.0 503.0 495.8 505.7 496.1C508.4 496.4 510.7 496.3 512.3 496.1C513.9 495.9 514.4 495.3 515.1 494.7C515.8 494.1 516.3 492.8 516.5 492.4"/>
<path d="M512.6 493.2C512.9 493.6 514.5 494.9 514.6 495.8C514.7 496.7 513.4 498.1 513.2 498.6"/>
<path d="M513.2 498.6L525.7 499.0"/>
<path d="M516.0 492.1L525.4 492.5"/>
<path d="M516.0 495.0L525.6 495.2"/>
<path d="M490.1 486.7C489.5 487.1 487.4 487.9 486.4 489.1C485.4 490.3 484.6 492.6 484.0 493.8C483.4 495.0 483.2 495.7 483.1 496.1"/>
<path d="M490.6 492.9C491.4 493.4 493.7 494.8 495.3 495.7C496.9 496.6 498.9 497.1 500.0 498.0C501.1 498.9 501.5 500.0 501.6 501.3C501.7 502.6 501.3 504.7 500.7 506.0C500.1 507.3 499.1 508.3 498.2 508.9C497.3 509.5 497.2 509.7 495.3 509.4C493.4 509.1 489.8 507.9 487.0 507.0C484.2 506.1 480.0 505.1 478.4 504.2C476.8 503.2 477.4 501.8 477.2 501.3"/>
<path d="M489.7 494.3C490.3 495.0 492.3 497.2 493.4 498.5C494.5 499.8 496.0 501.1 496.3 502.3C496.6 503.5 495.9 505.0 495.3 505.6C494.7 506.2 494.2 506.6 492.5 506.0C490.8 505.4 487.0 503.3 485.0 502.3C483.0 501.3 481.4 500.7 480.3 499.9C479.2 499.1 478.9 498.4 478.4 497.6C477.9 496.8 477.6 495.6 477.4 495.2"/>
<path d="M490.6 497.6C491.2 498.4 493.9 501.2 494.4 502.3C494.9 503.4 494.0 503.9 493.4 504.2C492.8 504.5 492.5 505.0 490.6 504.2C488.7 503.4 483.5 500.2 482.1 499.4"/>
<path d="M477.4 495.2C478.2 495.1 481.1 494.1 482.1 494.3C483.1 494.5 483.3 496.1 483.5 496.5"/>
<path d="M485.8 494.6 L489 495.2 L488.6 497.6 L485.4 496.8Z" fill="#111" stroke-width="0.5"/>
<path d="M521.7 485.1C522.3 485.1 524.3 485.3 525.4 485.1C526.5 484.9 526.7 484.2 528.3 484.1C529.9 484.0 532.2 484.1 534.9 484.3C537.6 484.5 541.8 485.2 544.3 485.1C546.8 485.0 548.3 484.1 549.9 483.7C551.5 483.3 553.1 482.9 553.7 482.7"/>
<path d="M525.4 485.1L525.9 499.3"/>
<path d="M527.3 485.0L527.3 498.3"/>
<path d="M527.3 492.1L536.3 492.1"/>
<path d="M527.3 495.0L535.8 495.0"/>
<path d="M527.3 498.3C528.7 498.2 533.0 497.8 535.8 497.8C538.6 497.8 541.9 498.2 544.3 498.3C546.6 498.4 548.2 498.6 549.9 498.7C551.6 498.8 553.8 499.1 554.6 499.2"/>
<path d="M536.3 491.2L535.8 497.8"/>
<path d="M536.3 491.9 Q541 488.6 546.2 488.8 Q549 489.2 550.9 490.5 Q545 492.2 536.3 492.5Z" fill="#555" stroke-width="0.8"/>
<path d="M550.9 490.3L556.5 492.6"/>
<path d="M549.9 492.6C549.8 493.0 549.5 494.2 549.4 495.0C549.3 495.8 548.6 496.6 549.5 497.3C550.4 498.0 553.8 498.9 554.6 499.2"/>
<path d="M551.8 493.6L555.6 494.0L554.6 498.3"/>
<path d="M550.2 496 L552.6 496.2 L552.4 498 L550.2 497.8Z" fill="#111" stroke-width="0.5"/>
</svg>
<p class="cap" id="c1">1. Push down to force excess air out</p>
<p class="cap" id="c2">2. Roll down three more times</p>
<p class="cap" id="c3">3. Clip the buckles to close</p>
<p class="cap" id="c4">4. Hook the straps</p>
</body></html>
